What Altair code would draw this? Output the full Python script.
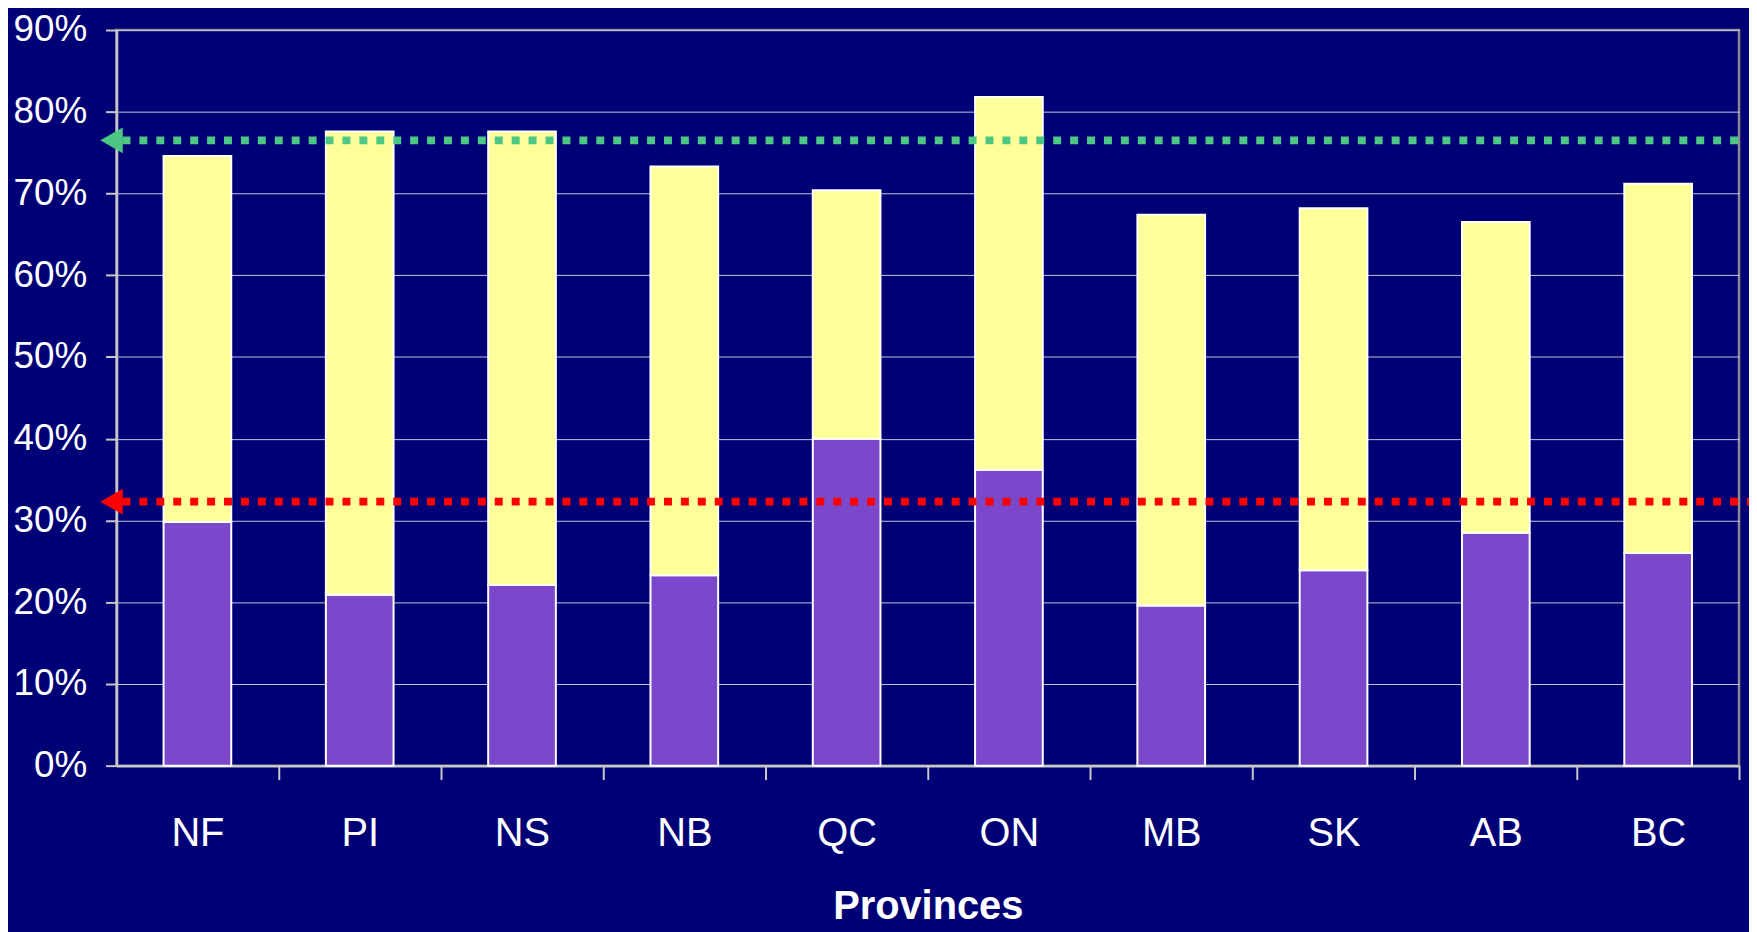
import altair as alt
import pandas as pd

# ---- data ----
provinces = ["NF", "PI", "NS", "NB", "QC", "ON", "MB", "SK", "AB", "BC"]
lower_pct = [29.8, 20.9, 22.1, 23.3, 40.0, 36.2, 19.6, 23.9, 28.5, 26.0]   # purple segment top
total_pct = [74.6, 77.6, 77.6, 73.3, 70.4, 81.8, 67.4, 68.2, 66.5, 71.2]   # yellow segment top
green_ref_pct = [76.5]
red_ref_pct = [32.3]
y_tick_pct = [0, 10, 20, 30, 40, 50, 60, 70, 80, 90]
x_title = "Provinces"

rows = []
for p, lo, tot in zip(provinces, lower_pct, total_pct):
    rows.append({"province": p, "segment": "lower", "start": 0.0, "end": lo / 100})
    rows.append({"province": p, "segment": "upper", "start": lo / 100, "end": tot / 100})
bars_df = pd.DataFrame(rows)
green_df = pd.DataFrame({"v": [v / 100 for v in green_ref_pct]})
red_df = pd.DataFrame({"v": [v / 100 for v in red_ref_pct]})

W, H = 1630, 739
STEP = W / len(provinces)
FONT = "Liberation Sans Narrow, Arial Narrow, Liberation Sans, Arial, sans-serif"
FS = 40
FS_Y = 37
BG = "#000076"
AXIS_GREY = "#c8c8c8"

y_scale = alt.Scale(domain=[0, 0.9], nice=False, zero=True)
y_axis = alt.Axis(
    title=None,
    values=[v / 100 for v in y_tick_pct],
    format=".0%",
    labelFont=FONT,
    labelFontSize=FS_Y,
    labelColor="white",
    labelPadding=19,
    labelBaseline="middle",
    tickSize=11,
    tickWidth=2,
    tickColor=AXIS_GREY,
    domainColor=AXIS_GREY,
    domainWidth=2.5,
    grid=True,
    gridColor="#c4c4dc",
    gridWidth=1,
)

bars = alt.Chart(bars_df).mark_bar(stroke="white", strokeWidth=2, opacity=1).encode(
    x=alt.X(
        "province:N",
        sort=provinces,
        scale=alt.Scale(paddingInner=0.583, paddingOuter=0.29),
        axis=alt.Axis(
            title=x_title,
            titleFont=FONT,
            titleFontSize=FS,
            titleFontWeight="bold",
            titleColor="white",
            titleBaseline="alphabetic",
            titleY=154,
            labelFont=FONT,
            labelFontSize=FS,
            labelColor="white",
            labelAngle=0,
            labelBaseline="alphabetic",
            labelPadding=66,
            labelOffset=-STEP / 2,
            tickSize=14,
            tickWidth=2,
            tickColor=AXIS_GREY,
            tickOffset=STEP / 2,
            domainColor=AXIS_GREY,
            domainWidth=2.5,
            grid=False,
        ),
    ),
    y=alt.Y("start:Q", scale=y_scale, axis=y_axis),
    y2="end:Q",
    color=alt.Color(
        "segment:N",
        scale=alt.Scale(domain=["lower", "upper"], range=["#7b48cc", "#ffff99"]),
        legend=None,
    ),
)

green_line = alt.Chart(green_df).mark_rule(
    color="#4cc784", strokeWidth=8, strokeDash=[8, 9], strokeCap="butt"
).encode(y=alt.Y("v:Q", scale=y_scale, axis=y_axis), x=alt.value(6), x2=alt.value(W))

red_line = alt.Chart(red_df).mark_rule(
    color="#ff0000", strokeWidth=8, strokeDash=[8, 9], strokeCap="butt"
).encode(y=alt.Y("v:Q", scale=y_scale, axis=y_axis), x=alt.value(6), x2=alt.value(W + 10))

green_arrow = alt.Chart(green_df).mark_point(
    shape="triangle-left", filled=True, size=676, color="#4cc784", opacity=1
).encode(y=alt.Y("v:Q", scale=y_scale, axis=y_axis), x=alt.value(-5))

red_arrow = alt.Chart(red_df).mark_point(
    shape="triangle-left", filled=True, size=676, color="#ff0000", opacity=1
).encode(y=alt.Y("v:Q", scale=y_scale, axis=y_axis), x=alt.value(-5))

chart = (
    alt.layer(bars, green_line, red_line, green_arrow, red_arrow)
    .properties(
        width=W,
        height=H,
        padding={"left": 109, "top": 20, "right": 10, "bottom": 165},
        autosize=alt.AutoSizeParams(type="none"),
        background=BG,
    )
    .configure_view(stroke="#8c8c8c", strokeWidth=2.5)
)

chart.save("out.html", embed_options={"renderer": "svg", "actions": False})
